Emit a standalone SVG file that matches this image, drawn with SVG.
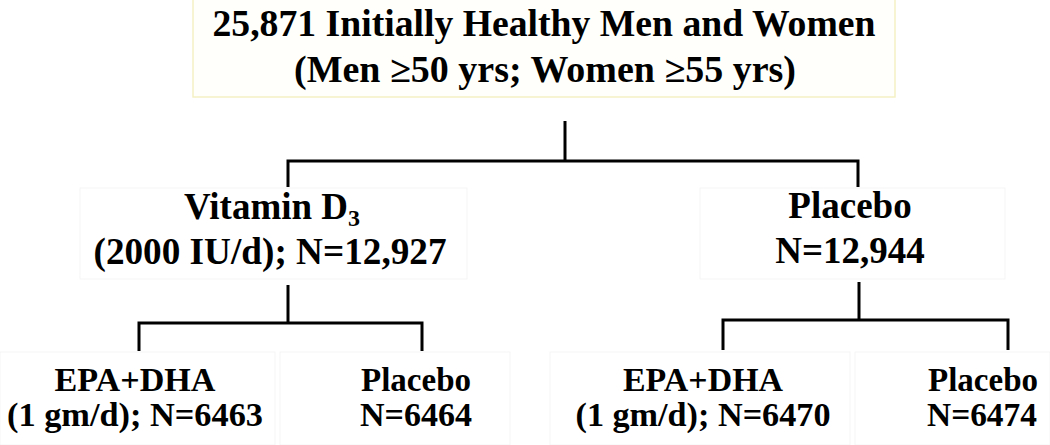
<svg xmlns="http://www.w3.org/2000/svg" width="1050" height="445" viewBox="0 0 1050 445">
  <style>
    .t { font-family: "Liberation Serif", "Times New Roman", serif; font-weight: bold; fill: #000; text-anchor: middle; }
    .l1 { font-size: 37px; }
    .l2 { font-size: 37px; }
    .l3 { font-size: 34px; }
    .frame { fill: #ffffff; stroke: #f5f5f5; stroke-width: 1; }
    .conn { fill: none; stroke: #000; stroke-width: 3; stroke-linejoin: miter; stroke-linecap: butt; }
  </style>
  <rect x="0" y="0" width="1050" height="445" fill="#ffffff"/>

  <g id="node-root">
    <rect x="193" y="-2" width="702" height="99" fill="#fffffb" stroke="#f4f1c4" stroke-width="1.5"/>
    <text class="t l1" x="544" y="36" textLength="663" lengthAdjust="spacingAndGlyphs">25,871 Initially Healthy Men and Women</text>
    <text class="t l1" x="545" y="82" textLength="502" lengthAdjust="spacingAndGlyphs">(Men ≥50 yrs; Women ≥55 yrs)</text>
  </g>

  <g id="node-vitd">
    <rect class="frame" x="80" y="188" width="387" height="91"/>
    <text class="t l2" x="272" y="219">Vitamin D<tspan font-size="24" dy="7">3</tspan></text>
    <text class="t l2" x="270" y="264" textLength="353" lengthAdjust="spacingAndGlyphs">(2000 IU/d); N=12,927</text>
  </g>

  <g id="node-placebo">
    <rect class="frame" x="700" y="188" width="305" height="91"/>
    <text class="t l2" x="850" y="218">Placebo</text>
    <text class="t l2" x="850" y="263">N=12,944</text>
  </g>

  <g id="node-epa-left">
    <rect class="frame" x="0" y="352" width="275" height="93"/>
    <text class="t l3" x="135" y="391" textLength="161" lengthAdjust="spacingAndGlyphs">EPA+DHA</text>
    <text class="t l3" x="135" y="426" textLength="256" lengthAdjust="spacingAndGlyphs">(1 gm/d); N=6463</text>
  </g>

  <g id="node-placebo-left">
    <rect class="frame" x="280" y="352" width="230" height="93"/>
    <text class="t l3" x="416" y="391" textLength="110" lengthAdjust="spacingAndGlyphs">Placebo</text>
    <text class="t l3" x="416" y="426" textLength="112" lengthAdjust="spacingAndGlyphs">N=6464</text>
  </g>

  <g id="node-epa-right">
    <rect class="frame" x="550" y="352" width="300" height="93"/>
    <text class="t l3" x="703" y="391" textLength="160" lengthAdjust="spacingAndGlyphs">EPA+DHA</text>
    <text class="t l3" x="703" y="426" textLength="255" lengthAdjust="spacingAndGlyphs">(1 gm/d); N=6470</text>
  </g>

  <g id="node-placebo-right">
    <rect class="frame" x="855" y="352" width="195" height="93"/>
    <text class="t l3" x="983" y="391" textLength="110" lengthAdjust="spacingAndGlyphs">Placebo</text>
    <text class="t l3" x="982" y="426" textLength="110" lengthAdjust="spacingAndGlyphs">N=6474</text>
  </g>

  <g id="connectors">
    <path class="conn" d="M565 121 V161"/>
    <path class="conn" d="M288 187 V161 H858 V187"/>
    <path class="conn" d="M288 285 V323"/>
    <path class="conn" d="M139 351 V323 H422 V351"/>
    <path class="conn" d="M859 282 V320"/>
    <path class="conn" d="M723 350 V320 H1008 V350"/>
  </g>
</svg>
